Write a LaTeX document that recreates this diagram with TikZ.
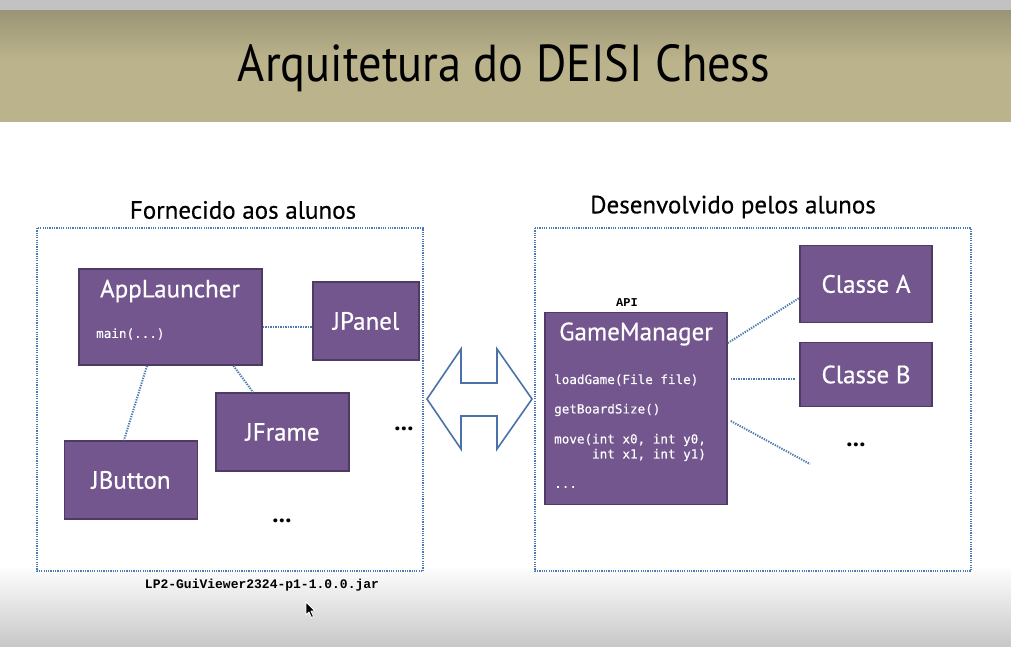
\documentclass[tikz,border=0pt]{standalone}
\usepackage{fontspec}
\setmainfont{PT Sans}
\setmonofont{DejaVu Sans Mono}[FakeBold=0.25]
\newfontfamily\boxfont{PT Sans}[FakeBold=0.6]
\newfontfamily\headfont{PT Sans}[FakeBold=0.4]
\newfontfamily\jarfont{Liberation Mono}
\usetikzlibrary{calc}

\definecolor{band}{HTML}{BBB38B}
\definecolor{bandtop}{HTML}{9A9576}
\definecolor{topstrip}{HTML}{C2C2C2}
\definecolor{boxfill}{HTML}{74568F}
\definecolor{boxline}{HTML}{4E3B64}
\definecolor{dotblue}{HTML}{4D7AB0}
\definecolor{arrowblue}{HTML}{4A72A8}
\definecolor{floorgray}{HTML}{C8C8C8}

\tikzset{
  cls/.style={draw=boxline, line width=1.6pt, fill=boxfill, inner sep=0pt},
  clsname/.style={text=white, font=\boxfont\fontsize{25}{29}\selectfont, inner sep=0pt},
  method/.style={text=white, font=\ttfamily\fontsize{12.6}{15}\selectfont, inner sep=0pt, anchor=west},
  frame/.style={draw=dotblue, line width=1.8pt, dash pattern=on 1.2pt off 1.1pt},
  conn/.style={draw=dotblue, line width=2pt, dash pattern=on 1.3pt off 1.2pt},
  heading/.style={font=\headfont\fontsize{25}{29}\selectfont, inner sep=0pt},
  ellipsis/.style={font=\bfseries\fontsize{25}{29}\selectfont, inner sep=0pt}
}

\begin{document}
\begin{tikzpicture}[x=1pt,y=-1pt]
\useasboundingbox (0,0) rectangle (1011,646);

% page background
\fill[white] (0,0) rectangle (1011,646);
\shade[top color=white, bottom color=floorgray] (0,565) rectangle (1011,646);
\fill[topstrip] (0,0) rectangle (1011,10);
\shade[top color=bandtop, bottom color=band] (0,10) rectangle (1011,60);
\fill[band] (0,60) rectangle (1011,122);

% title
\node[inner sep=0pt] (title) at (504,68)
  {\resizebox{532pt}{37pt}{Arquitetura do DEISI Chess}};

% headings
\node[heading] (hleft) at (243,210) {Fornecido aos alunos};
\node[heading] (hright) at (733,207) {Desenvolvido pelos alunos};

% dotted frames
\draw[frame] (37,228) rectangle (423,571);
\draw[frame] (535,228) rectangle (971,571);

% left side classes
\node[cls, minimum width=183pt, minimum height=96pt] (app) at (170.5,317) {};
\node[clsname] (apptitle) at (170,291) {AppLauncher};
\node[method] (appmain) at (96,334) {main(...)};

\node[cls, minimum width=106pt, minimum height=78pt] (jpanel) at (366,321) {};
\node[clsname] at (jpanel) {JPanel};

\node[cls, minimum width=133pt, minimum height=78pt] (jframe) at (282.5,432) {};
\node[clsname] at (jframe) {JFrame};

\node[cls, minimum width=133pt, minimum height=78pt] (jbutton) at (131,480) {};
\node[clsname] at (jbutton) {JButton};

\node[ellipsis] (moreA) at (404,429) {...};
\node[ellipsis] (moreB) at (282,521) {...};

% left side links
\draw[conn] ([yshift=-10pt]app.east) -- ([yshift=-6pt]jpanel.west);
\draw[conn] ([xshift=-23.5pt]app.south) -- ([xshift=-7pt]jbutton.north);
\draw[conn] ([xshift=63pt]app.south) -- ([xshift=-29.5pt]jframe.north);

% exchange arrow
\draw[arrowblue, line width=1.6pt, fill=white, line join=miter]
  (427,399) -- (461,349) -- (461,383) -- (497,383) -- (497,349)
  -- (532,399) -- (497,449) -- (497,416) -- (461,416) -- (461,449) -- cycle;

% right side: API class
\node[font=\jarfont\bfseries\fontsize{12}{14}\selectfont, inner sep=0pt] (api) at (627,303) {API};
\node[cls, minimum width=182pt, minimum height=192pt] (gm) at (636,408.5) {};
\node[clsname] (gmtitle) at (636,334) {GameManager};
\node[method] (m1) at (554,380) {loadGame(File file)};
\node[method] (m2) at (554,410) {getBoardSize()};
\node[method] (m3) at (554,440) {move(int x0, int y0,};
\node[method] (m4) at (554,455) {\ \ \ \ \ int x1, int y1)};
\node[method] (m5) at (554,487) {...};

\node[cls, minimum width=132pt, minimum height=77pt] (ca) at (866,284) {};
\node[clsname] at (ca) {Classe A};
\node[cls, minimum width=132pt, minimum height=64pt] (cb) at (866,374.5) {};
\node[clsname] at (cb) {Classe B};
\node[ellipsis] (moreC) at (856,445) {...};

\coordinate (openend) at (810,464);
\draw[conn] ([yshift=65.5pt]gm.east) -- ([yshift=-14pt]ca.west);
\draw[conn] ([yshift=29.5pt,xshift=3pt]gm.east) -- ([yshift=-4.5pt,xshift=-4pt]cb.west);
\draw[conn] ([yshift=-12.5pt,xshift=3pt]gm.east) -- (openend);

% archive name
\node[font=\jarfont\bfseries\fontsize{13}{15}\selectfont, inner sep=0pt] (jar) at (262,585) {LP2-GuiViewer2324-p1-1.0.0.jar};

% pointer
\draw[white, line width=0.8pt, fill=black, line join=round]
  (306,602) -- (306,615) -- (309,612) -- (311.5,617.5) -- (313.5,616.5) -- (311,611) -- (315,611) -- cycle;
\end{tikzpicture}
\end{document}
